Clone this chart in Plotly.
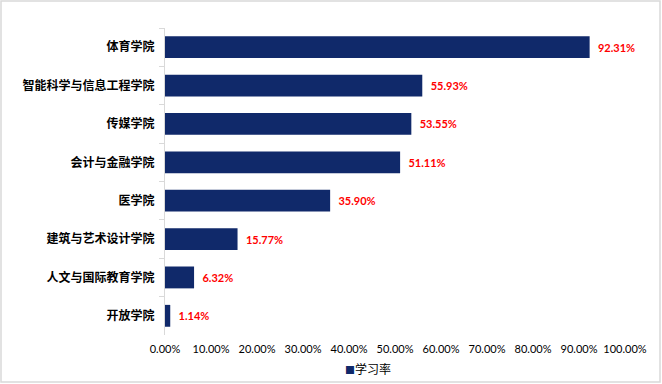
import plotly.graph_objects as go

categories = ["体育学院", "智能科学与信息工程学院", "传媒学院", "会计与金融学院",
              "医学院", "建筑与艺术设计学院", "人文与国际教育学院", "开放学院"]
rates = [0.9231, 0.5593, 0.5355, 0.5111, 0.3590, 0.1577, 0.0632, 0.0114]
series_name = "学习率"
tick_vals = [0, 0.1, 0.2, 0.3, 0.4, 0.5, 0.6, 0.7, 0.8, 0.9, 1.0]

L, R, T, B = 165, 37, 28, 49
W, H = 662, 384
pw, ph = W - L - R, H - T - B

fig = go.Figure()
fig.add_trace(go.Bar(
    y=categories, x=rates, orientation="h", name=series_name,
    marker=dict(color="#10296a", line=dict(width=0)),
    width=0.57,
    texttemplate="\u00a0\u00a0%{x:.2%}", textposition="outside",
    textfont=dict(color="#ff0000", size=11, family="Lato, Open Sans, sans-serif", weight="bold"),
    cliponaxis=False,
    showlegend=False,
))

fig.update_layout(
    width=W, height=H,
    margin=dict(l=L, r=R, t=T, b=B, autoexpand=False),
    paper_bgcolor="white", plot_bgcolor="white",
    showlegend=False,
    xaxis=dict(range=[0, 1], tickvals=tick_vals, tickformat=".2%",
               showgrid=False, zeroline=False, showline=False, automargin=False,
               tickfont=dict(size=11, family="Lato, Open Sans, sans-serif", color="#000"),
               ticks="", ticklabelstandoff=6),
    yaxis=dict(autorange="reversed", showline=True, linecolor="#d9d9d9", linewidth=1,
               ticks="outside", ticklen=5, tickcolor="#d9d9d9", tickson="boundaries",
               showgrid=False, automargin=False,
               tickfont=dict(size=12, family="Noto Sans CJK SC", color="#000", weight="bold"),
               ticklabelstandoff=7),
    bargap=0.43,
    annotations=[dict(xref="paper", yref="paper", x=(343 - L) / pw, xanchor="left",
                      y=(H - B - 368) / ph, yanchor="middle", showarrow=False,
                      text="<span style='color:#10296a;font-size:10px'>■</span>" + series_name,
                      font=dict(size=12, family="Noto Sans CJK SC", color="#000"))],
    shapes=[dict(type="rect", xref="paper", yref="paper",
                 x0=(1 - L) / pw, x1=(660 - L) / pw,
                 y0=(H - B - 382) / ph, y1=(H - B - 1) / ph,
                 line=dict(color="#d9d9d9", width=1.5), fillcolor="rgba(0,0,0,0)",
                 layer="below")],
)

fig.write_html("out.html", config={"displayModeBar": False},
               post_script="document.body.style.margin='0';document.body.style.overflow='hidden';")
